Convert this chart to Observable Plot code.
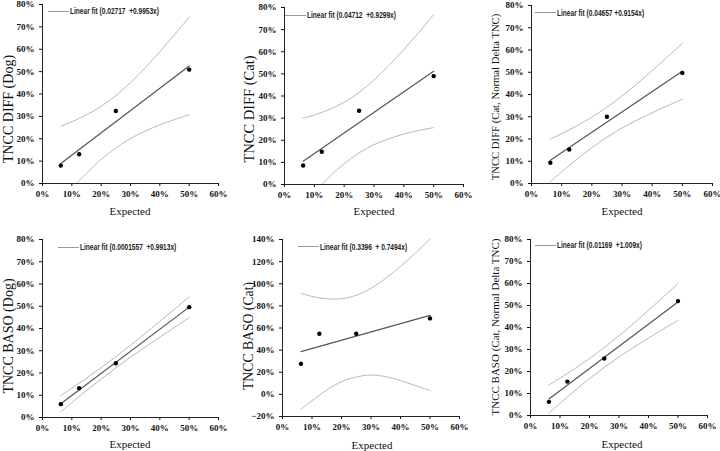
<!DOCTYPE html>
<html><head><meta charset="utf-8">
<script src="https://cdn.jsdelivr.net/npm/d3@7"></script>
<script src="https://cdn.jsdelivr.net/npm/@observablehq/plot@0.6"></script>
<style>
body{margin:0;background:#fff;}
#wrap{position:relative;width:720px;height:451px;overflow:hidden;background:#fff;}
.panel{position:absolute;}
.panel svg, .panel svg text{font-family:"Liberation Serif","Times New Roman",serif !important;}
.ylab{position:absolute;font-family:"Liberation Serif",serif;color:#111;white-space:nowrap;transform:translate(-50%,-50%) rotate(-90deg);}
.xlab{position:absolute;font:11px "Liberation Serif",serif;color:#111;white-space:nowrap;transform:translate(-50%,-50%);}
.leg{position:absolute;display:flex;align-items:center;transform:translateY(-50%);white-space:pre;}
.leg .sw{width:21px;height:0;border-top:1.5px solid #9a9a9a;margin-right:1px;}
.leg .tx{font:bold 9px "Liberation Sans",sans-serif;color:#222;transform:scaleX(0.73);transform-origin:left center;}
</style>
</head><body>
<div id="wrap"></div>
<script>
// ---- data ----
const expected = [0.0625, 0.125, 0.25, 0.5];
const bandX = [0.0625, 0.10, 0.15, 0.20, 0.25, 0.30, 0.35, 0.40, 0.45, 0.50];
const fitX = [0.0625, 0.5];

const yTitles = ["TNCC DIFF (Dog)", "TNCC DIFF (Cat)", "TNCC DIFF (Cat, Normal Delta TNC)",
                 "TNCC BASO (Dog)", "TNCC BASO (Cat)", "TNCC BASO (Cat, Normal Delta TNC)"];
const xTitle = "Expected";
const fitLabels = ["Linear fit (0.02717  +0.9953x)", "Linear fit (0.04712  +0.9299x)", "Linear fit (0.04657 +0.9154x)",
                   "Linear fit (0.0001557  +0.9913x)", "Linear fit (0.3396  + 0.7494x)", "Linear fit (0.01169  +1.009x)"];

// TNCC DIFF (Dog)
const obsDiffDog = [0.080, 0.131, 0.324, 0.509];
const fitDiffDog = [0.089, 0.525];
const upDiffDog = [0.256, 0.276, 0.307, 0.345, 0.393, 0.451, 0.517, 0.589, 0.665, 0.743];
const loDiffDogX = [0.116, 0.15, 0.20, 0.25, 0.30, 0.35, 0.40, 0.45, 0.50];
const loDiffDog = [0.0, 0.046, 0.108, 0.159, 0.201, 0.234, 0.262, 0.286, 0.307];

// TNCC DIFF (Cat)
const obsDiffCat = [0.086, 0.148, 0.333, 0.490];
const fitDiffCat = [0.105, 0.512];
const upDiffCat = [0.300, 0.314, 0.339, 0.372, 0.416, 0.472, 0.538, 0.610, 0.687, 0.767];
const loDiffCatX = [0.125, 0.15, 0.20, 0.25, 0.30, 0.35, 0.40, 0.45, 0.50];
const loDiffCat = [0.0, 0.034, 0.094, 0.143, 0.180, 0.207, 0.228, 0.244, 0.257];

// TNCC DIFF (Cat, Normal Delta TNC)
const obsDiffCatN = [0.093, 0.153, 0.300, 0.497];
const fitDiffCatN = [0.104, 0.504];
const upDiffCatN = [0.200, 0.224, 0.259, 0.298, 0.343, 0.393, 0.449, 0.507, 0.568, 0.630];
const loDiffCatN = [0.008, 0.052, 0.109, 0.161, 0.208, 0.249, 0.285, 0.318, 0.349, 0.379];

// TNCC BASO (Dog)
const obsBasoDog = [0.060, 0.132, 0.244, 0.496];
const fitBasoDog = [0.062, 0.496];
const upBasoDog = [0.098, 0.132, 0.177, 0.224, 0.273, 0.325, 0.378, 0.432, 0.487, 0.543];
const loBasoDog = [0.026, 0.067, 0.121, 0.173, 0.223, 0.271, 0.317, 0.361, 0.405, 0.449];

// TNCC BASO (Cat)
const obsBasoCat = [0.277, 0.548, 0.548, 0.687];
const fitBasoCat = [0.386, 0.714];
const upBasoCat = [0.913, 0.886, 0.864, 0.865, 0.896, 0.960, 1.049, 1.157, 1.276, 1.404];
const loBasoCat = [-0.135, -0.057, 0.040, 0.114, 0.157, 0.175, 0.160, 0.125, 0.080, 0.035];

// TNCC BASO (Cat, Normal Delta TNC)
const obsBasoCatN = [0.062, 0.154, 0.259, 0.520];
const fitBasoCatN = [0.075, 0.516];
const upBasoCatN = [0.139, 0.170, 0.213, 0.259, 0.309, 0.362, 0.419, 0.478, 0.539, 0.600];
const loBasoCatN = [0.011, 0.055, 0.113, 0.168, 0.219, 0.266, 0.310, 0.352, 0.393, 0.432];

const yDomainPct = [0, 0.8];
const yDomainWide = [-0.2, 1.4];
const xDomain = [0, 0.6];

// ---- assembly ----
const panels = [
  {obs: obsDiffDog, fit: fitDiffDog, up: upDiffDog, loX: loDiffDogX, lo: loDiffDog, yd: yDomainPct},
  {obs: obsDiffCat, fit: fitDiffCat, up: upDiffCat, loX: loDiffCatX, lo: loDiffCat, yd: yDomainPct},
  {obs: obsDiffCatN, fit: fitDiffCatN, up: upDiffCatN, loX: bandX, lo: loDiffCatN, yd: yDomainPct},
  {obs: obsBasoDog, fit: fitBasoDog, up: upBasoDog, loX: bandX, lo: loBasoDog, yd: yDomainPct},
  {obs: obsBasoCat, fit: fitBasoCat, up: upBasoCat, loX: bandX, lo: loBasoCat, yd: yDomainWide},
  {obs: obsBasoCatN, fit: fitBasoCatN, up: upBasoCatN, loX: bandX, lo: loBasoCatN, yd: yDomainPct}
];

const layout = [
  {left:0,   top:0,   w:240, h:225, mL:42, mR:22, mT:4,  mB:42, ylab:[8.5,109,14],     xlab:[130,211], leg:[48,11]},
  {left:240, top:0,   w:240, h:225, mL:44, mR:17, mT:7,  mB:41, ylab:[248.7,109,14.5], xlab:[374,211], leg:[285,15]},
  {left:480, top:0,   w:240, h:225, mL:51, mR:8,  mT:5,  mB:42, ylab:[495,96.7,10.7],  xlab:[622,211], leg:[535,12.7]},
  {left:0,   top:225, w:240, h:226, mL:42, mR:22, mT:14, mB:34, ylab:[8.7,335.8,14],   xlab:[130,444], leg:[57.7,247.3]},
  {left:240, top:225, w:240, h:226, mL:42, mR:21, mT:14, mB:35, ylab:[248.7,335.8,13.7], xlab:[372,445], leg:[298,246.7]},
  {left:480, top:225, w:240, h:226, mL:50, mR:13, mT:14, mB:36, ylab:[495,326.7,11],   xlab:[622,444], leg:[535,245.3]}
];

const pct = d3.format(".0%");
const wrap = document.getElementById("wrap");

panels.forEach((p, i) => {
  const L = layout[i];
  const pts = expected.map((x, k) => ({x, y: p.obs[k]}));
  const fit = fitX.map((x, k) => ({x, y: p.fit[k]}));
  const up = bandX.map((x, k) => ({x, y: p.up[k]}));
  const lo = p.loX.map((x, k) => ({x, y: p.lo[k]}));
  const span = p.yd[1] - p.yd[0];
  const chart = Plot.plot({
    width: L.w, height: L.h,
    marginLeft: L.mL, marginRight: L.mR, marginTop: L.mT, marginBottom: L.mB,
    style: {fontFamily: "'Liberation Serif', serif", fontSize: "9px", fontWeight: "bold", background: "transparent", overflow: "visible", color: "#111"},
    x: {domain: xDomain, ticks: 6, tickFormat: pct, label: null, tickSize: 3, tickPadding: 4},
    y: {domain: p.yd, ticks: Math.round(span / (span > 1 ? 0.2 : 0.1)), tickFormat: pct, label: null, tickSize: 3, tickPadding: 5},
    marks: [
      Plot.line(up, {x: "x", y: "y", stroke: "#b8b8b8", strokeWidth: 1, curve: "catmull-rom"}),
      Plot.line(lo, {x: "x", y: "y", stroke: "#b8b8b8", strokeWidth: 1, curve: "catmull-rom"}),
      Plot.line(fit, {x: "x", y: "y", stroke: "#555", strokeWidth: 1.2}),
      Plot.dot(pts, {x: "x", y: "y", r: 2.2, fill: "#000", stroke: "none"}),
      Plot.ruleX([0], {stroke: "#222", strokeWidth: 1}),
      Plot.ruleY([p.yd[0]], {stroke: "#222", strokeWidth: 1})
    ]
  });
  const holder = document.createElement("div");
  holder.className = "panel";
  holder.style.left = L.left + "px";
  holder.style.top = L.top + "px";
  holder.appendChild(chart);
  wrap.appendChild(holder);

  const yl = document.createElement("div");
  yl.className = "ylab";
  yl.textContent = yTitles[i];
  yl.style.left = L.ylab[0] + "px";
  yl.style.top = L.ylab[1] + "px";
  yl.style.fontSize = L.ylab[2] + "px";
  wrap.appendChild(yl);

  const xl = document.createElement("div");
  xl.className = "xlab";
  xl.textContent = xTitle;
  xl.style.left = L.xlab[0] + "px";
  xl.style.top = L.xlab[1] + "px";
  wrap.appendChild(xl);

  const lg = document.createElement("div");
  lg.className = "leg";
  lg.style.left = L.leg[0] + "px";
  lg.style.top = L.leg[1] + "px";
  const sw = document.createElement("span"); sw.className = "sw";
  const tx = document.createElement("span"); tx.className = "tx"; tx.textContent = fitLabels[i];
  lg.appendChild(sw); lg.appendChild(tx);
  wrap.appendChild(lg);
});
</script>
</body></html>
